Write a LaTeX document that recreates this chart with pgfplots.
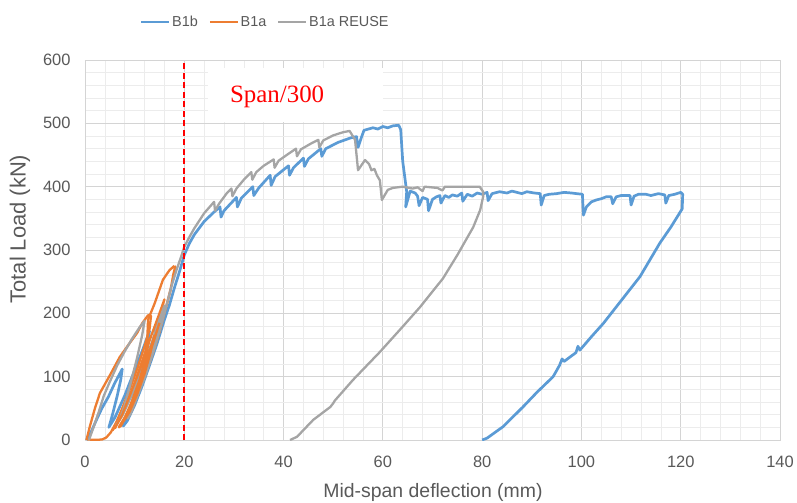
\documentclass[border=0pt]{standalone}
\usepackage{pgfplots}
\pgfplotsset{compat=1.18}
\usepackage{fontspec}
\setmainfont{Liberation Sans}
\newfontfamily\timesfont{Liberation Serif}
\definecolor{cblue}{HTML}{5B9BD5}
\definecolor{corange}{HTML}{ED7D31}
\definecolor{cgrey}{HTML}{A5A5A5}
\definecolor{ctext}{HTML}{595959}
\definecolor{cgrid}{HTML}{D4D4D4}
\definecolor{cminor}{HTML}{ECECEC}
\begin{document}
\begin{tikzpicture}
\begin{axis}[
 name=ax, at={(0,0)}, anchor=south west,
 width=695bp, height=380bp, scale only axis,
 xmin=0, xmax=140, ymin=0, ymax=600,
 xtick={0,20,...,140}, ytick={0,100,...,600},
 minor x tick num=4, minor y tick num=4,
 grid=both,
 major grid style={cgrid, line width=0.9bp},
 minor grid style={cminor, line width=0.7bp},
 tick style={draw=none},
 axis line style={cgrid, line width=0.9bp},
 /pgf/number format/assume math mode=true,
 ticklabel style={font=\fontsize{16.5}{18}\selectfont, text=ctext},
 yticklabel style={xshift=-11bp},
 xticklabel style={yshift=-13bp},
 xlabel={Mid-span deflection (mm)},
 xlabel style={at={(axis description cs:0.5007,-0.137)}, anchor=center, font=\fontsize{19.5}{21}\selectfont, text=ctext},
 ylabel={Total Load (kN)},
 ylabel style={at={(axis description cs:-0.0935,0.555)}, anchor=center, font=\fontsize{22}{24}\selectfont, text=ctext},
 legend columns=3,
 legend style={at={(axis description cs:0.259,1.1),}, anchor=center, draw=none, fill=none,
   font=\fontsize{14.5}{17}\selectfont, text=ctext,
   nodes={inner xsep=1.5bp},
   /tikz/every even column/.append style={column sep=9bp}},
 legend image code/.code={\draw[#1, line width=2.8bp] (0bp,0bp) -- (28bp,0bp);},
 every axis plot/.append style={line width=2.3bp, line join=round},
]
\fill[white] (axis cs:24.8,502) rectangle (axis cs:60,587);
\node[text=red, font=\timesfont\fontsize{25}{28}\selectfont] at (axis cs:38.7,541.6) {Span/300};

% B1b
\addplot[cblue, line width=2.7bp] coordinates {
(0.3,0) (1.2,12) (2.2,30) (3.4,50) (4.7,68) (6,90) (7.5,112)
(7.2,95) (6.5,70) (5.6,42) (5,25) (4.8,20)
(6,35) (8,70) (10,110) (11.5,140) (13,172)
(12.3,140) (11,100) (9.5,60) (8.4,35) (7.7,22)
(8.5,30) (10,55) (11.5,85) (13,118) (14.5,152) (16,190) (17,213) (18,240) (19,265) (20,292)
(21,310) (22,324) (24,345) (26,360) (27.2,368) (27.4,352) (28,362) (30.5,383) (30.7,368) (31.5,382) (33.8,400) (34,386) (35,398) (37.3,418) (37.5,402) (38.3,416) (41,433) (41.2,418) (42,430) (44,445) (44.2,432) (45,444) (47.5,460) (47.7,448) (48.5,460) (51,470) (53.5,477) (54.7,479) (55,462) (55.6,476) (56.2,489) (58,493) (59,491) (60,495) (61,493) (62,496) (63.2,497) (63.6,490) (64,440) (64.8,392) (64.6,368) (65.5,393) (66.5,390) (67,385) (67.3,370) (68,383) (69,380) (69.2,362) (70,380) (70.8,384) (71.5,386) (71.7,374) (72.5,386) (73.3,383) (74,387) (75,385) (75.9,390) (76.1,377) (77,388) (78,385) (79,390) (80,388) (81,391) (81.2,378) (82,389) (83.5,392) (85,390) (86,393) (87,391) (88,389) (89,392) (90.5,390) (91.7,389) (91.9,371) (92.5,386) (93.5,388) (95,389) (96.5,391) (98,390) (99,389) (100.2,388) (100.4,355) (101,368) (102,376) (103,379) (104,381) (105,384) (106,384) (106.3,373) (107,384) (108,386) (109.8,386) (110,371) (110.6,385) (111.5,388) (113,388) (114,386) (115.5,389) (116.8,387) (117,374) (117.6,386) (118.8,388) (120,391) (120.4,388) (120.3,365)
(118,336) (115.8,311) (111.8,258) (110,240) (107,210) (104.4,184) (102,163) (99.7,142) (99.3,148) (98.9,138) (96.5,124) (96.1,128) (95.6,118) (94.3,100) (91,75) (88.2,52) (84.2,21) (81,3) (80,0)
};
\addlegendentry{B1b}
% B1a
\addplot[corange] coordinates {
(0.5,1) (1.5,0.3) (2.5,0.2) (3.5,1) (4.3,4) (5.2,12) (6.3,28) (7.5,50) (9,80) (10.5,112) (12,148) (13,175) (13.3,196)
(12.7,197) (11.5,184) (10.5,169) (9,153) (7,131) (5,102) (3,74) (2,50) (1,22) (0.3,0)
};
\addlegendentry{B1a}
\addplot[corange, forget plot] coordinates {
(5.5,15) (6,20) (8,50) (10,90) (12,135) (13.5,168) (15,200) (16,222)
(15,195) (13.5,150) (12,110) (10,70) (8.5,40) (7.2,22) (6.8,20)
(8,35) (10,65) (12,105) (14,150) (16,200) (17.2,235) (17.8,262) (18.2,274)
(17.6,250) (16.5,215) (15,170) (13,122) (11,80) (9.5,48) (8.8,38)
(10,62) (11.5,100) (12.5,150) (12.7,190) (14,215) (15.7,253) (17,268) (18,275)
};
% B1a REUSE
\addplot[cgrey] coordinates {
(0.8,0) (1.8,22) (2.8,45) (3.8,70) (5,92) (6.5,118) (8,140) (9.5,160) (11,178) (12,188)
(11.5,165) (10.5,130) (9.2,90) (8,55) (7,32) (6.3,24)
(7.5,38) (9.5,72) (11.5,112) (13.5,155) (15,190) (16,212)
(15.2,185) (13.8,145) (12.2,105) (10.5,68) (9.2,42) (8.6,34)
(10,58) (12,98) (14,145) (15.5,185) (16.5,215) (17.5,245) (18.5,270) (19.3,288) (20,305) (21,320) (22,334) (24,358) (26,376) (26.2,362) (27,373) (28.5,389) (29.5,397) (29.7,385) (30.5,397) (32,411) (33.5,423) (33.7,411) (34.5,423) (36,433) (38,443) (38.2,430) (39,441) (41,452) (42.5,460) (42.7,448) (43.5,459) (45.5,468) (47,474) (47.2,462) (48,473) (50,481) (52,486) (53.3,488) (54.4,474) (55,426) (56.4,442) (57.2,436) (57.7,426) (58.3,428) (58.8,418) (59.4,410) (59.8,379) (61,395) (62,398) (64,400) (66,397) (67,399) (68,393) (68.4,400) (71,398) (72,394) (72.5,400) (76,400) (79.5,400) (80.2,392) (80.2,384)
(79.6,363) (78.2,336) (75,292) (72.1,255) (67.5,210) (64,179) (59.4,139) (54,95) (50.3,62) (50,58) (49.4,52) (46,32) (42.7,5) (41.3,0)
};
\addlegendentry{B1a REUSE}
\addplot[corange, forget plot] coordinates {
(6,18) (7.5,40) (9,70) (10.5,100) (12,135) (13,160)
(12.2,130) (11,95) (9.5,62) (8,35) (7,22)
(8.5,42) (10,72) (11.5,105) (13,140) (14,165)
(13.2,138) (12,105) (10.5,72) (9,45) (7.8,30)
(9.5,60) (11,92) (12.5,125) (13.8,155) (15,185)
};
\addplot[red, line width=1.6bp, dash pattern=on 6bp off 3.5bp, forget plot] coordinates {(20,0) (20,600)};
\end{axis}
\pgfresetboundingbox
\useasboundingbox (-85bp,-63bp) rectangle (712bp,440bp);
\end{tikzpicture}
\end{document}
